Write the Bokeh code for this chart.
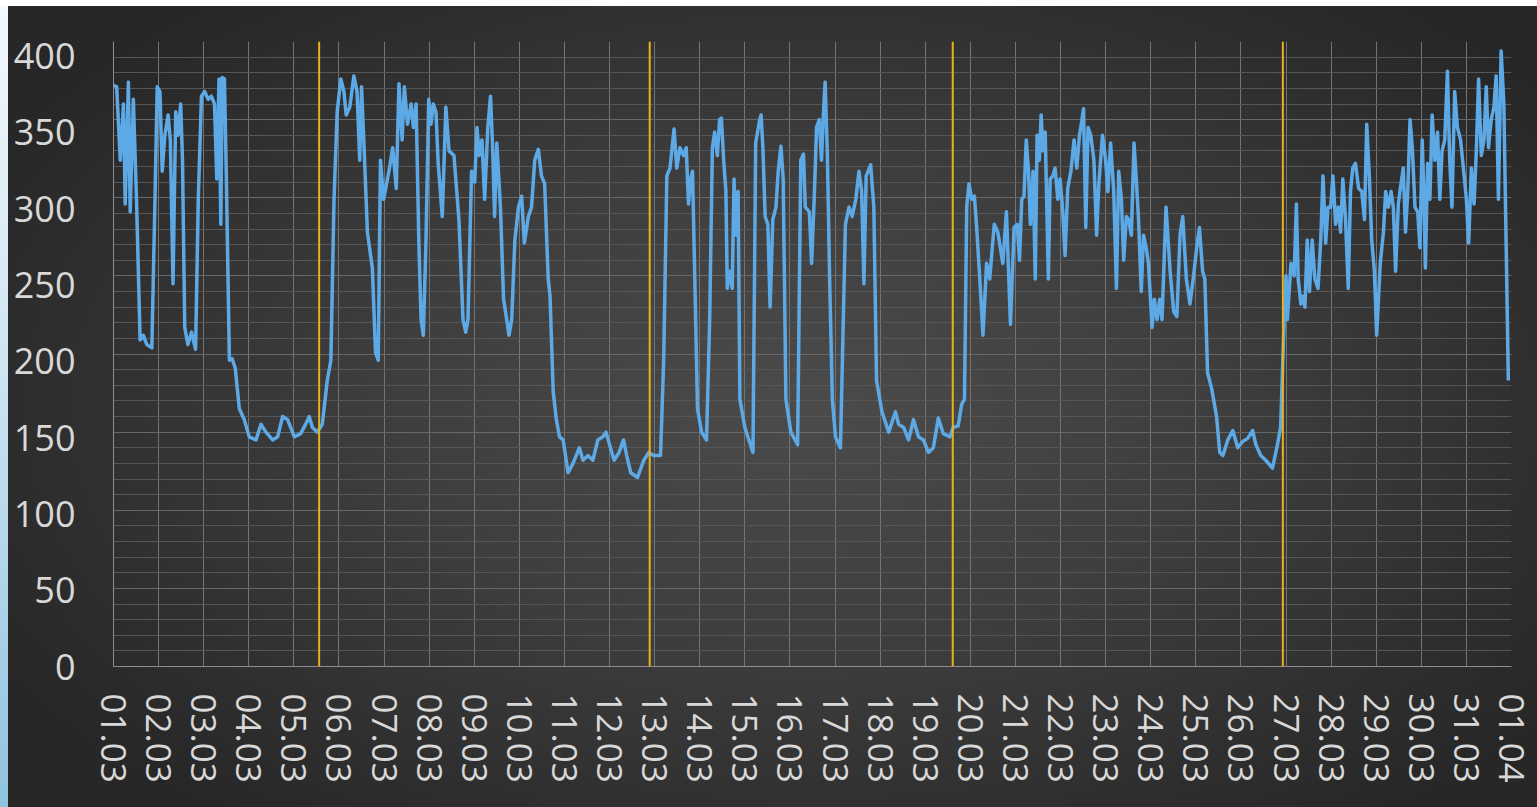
from bokeh.plotting import figure
from bokeh.models import Range1d, FixedTicker, SingleIntervalTicker, Span, LinearAxis
from bokeh.embed import file_html
from bokeh.resources import INLINE

# ---- data -------------------------------------------------------------
day_labels = ["01.03", "02.03", "03.03", "04.03", "05.03", "06.03", "07.03", "08.03",
              "09.03", "10.03", "11.03", "12.03", "13.03", "14.03", "15.03", "16.03",
              "17.03", "18.03", "19.03", "20.03", "21.03", "22.03", "23.03", "24.03",
              "25.03", "26.03", "27.03", "28.03", "29.03", "30.03", "31.03", "01.04"]

# time in days since 01.03 00:00
day_pos = [
    0.00, 0.07, 0.15, 0.22, 0.26, 0.33, 0.37, 0.44, 0.51, 0.59, 0.66, 0.74, 0.85, 0.92, 0.97,
    1.03, 1.08, 1.14, 1.21, 1.26, 1.32, 1.38, 1.43, 1.49, 1.53, 1.58, 1.65, 1.73, 1.82, 1.88, 1.95,
    2.02, 2.10, 2.17, 2.24, 2.29, 2.34, 2.38, 2.41, 2.46, 2.50, 2.57, 2.63, 2.70, 2.79, 2.90,
    3.01, 3.16, 3.27, 3.38, 3.53, 3.64, 3.75, 3.86,
    4.01, 4.15, 4.26, 4.34, 4.41, 4.52, 4.63, 4.74, 4.82, 4.89, 4.96,
    5.04, 5.11, 5.16, 5.24, 5.33, 5.40, 5.46, 5.50, 5.55, 5.63, 5.74, 5.81, 5.87, 5.92, 5.99,
    6.12, 6.19, 6.27, 6.33, 6.40, 6.45, 6.52, 6.60, 6.65, 6.71, 6.77, 6.82, 6.87, 6.93, 6.99,
    7.04, 7.09, 7.15, 7.20, 7.29, 7.37, 7.44, 7.55, 7.66, 7.75, 7.81, 7.86, 7.94,
    8.01, 8.06, 8.11, 8.17, 8.23, 8.30, 8.36, 8.41, 8.45, 8.50, 8.58, 8.65, 8.72, 8.77, 8.83, 8.90, 8.98,
    9.05, 9.11, 9.20, 9.27, 9.34, 9.42, 9.49, 9.56, 9.64, 9.68, 9.75, 9.82, 9.89, 9.97,
    10.08, 10.19, 10.26, 10.33, 10.41, 10.52, 10.63, 10.74, 10.85, 10.92,
    11.00, 11.10, 11.21, 11.31, 11.38, 11.47, 11.62, 11.76, 11.87, 11.98,
    12.13, 12.20, 12.27, 12.34, 12.43, 12.49, 12.56, 12.64, 12.70, 12.75, 12.80, 12.84, 12.89, 12.95,
    13.04, 13.15, 13.22, 13.28, 13.33, 13.39, 13.44, 13.48, 13.53, 13.58, 13.61, 13.67, 13.72, 13.76,
    13.81, 13.85, 13.89,
    14.00, 14.18, 14.24, 14.33, 14.36, 14.40, 14.45, 14.51, 14.56, 14.62, 14.69, 14.74, 14.80, 14.85, 14.91,
    15.02, 15.17, 15.24, 15.30, 15.34, 15.43, 15.48, 15.54, 15.59, 15.65, 15.70, 15.74, 15.78, 15.83,
    15.88, 15.94,
    16.01, 16.12, 16.23, 16.31, 16.38, 16.46, 16.53, 16.59, 16.64, 16.69, 16.79, 16.86, 16.92,
    17.04, 17.19, 17.34, 17.41, 17.52, 17.63, 17.74, 17.85, 17.96,
    18.07, 18.18, 18.29, 18.40, 18.55, 18.62, 18.73, 18.81, 18.87, 18.92, 18.97,
    19.03, 19.09, 19.14, 19.21, 19.28, 19.36, 19.43, 19.53, 19.61, 19.72, 19.80, 19.89, 19.97,
    20.04, 20.09, 20.14, 20.19, 20.24, 20.29, 20.33, 20.39, 20.44, 20.48, 20.53, 20.57, 20.61, 20.66,
    20.73, 20.77, 20.83, 20.88, 20.94, 20.99,
    21.05, 21.10, 21.16, 21.23, 21.30, 21.36, 21.42, 21.46, 21.51, 21.56, 21.61, 21.67, 21.74, 21.80,
    21.85, 21.93,
    22.00, 22.05, 22.11, 22.18, 22.24, 22.29, 22.35, 22.40, 22.46, 22.51, 22.57, 22.63, 22.68, 22.73,
    22.79, 22.84, 22.90, 22.95,
    23.03, 23.08, 23.14, 23.20, 23.25, 23.34, 23.43, 23.51, 23.58, 23.65, 23.71, 23.79, 23.87, 23.95,
    24.02, 24.08, 24.15, 24.20, 24.26, 24.35, 24.46, 24.53, 24.60, 24.71, 24.82, 24.93,
    25.04, 25.15, 25.26, 25.33, 25.44, 25.55, 25.70, 25.81, 25.88, 25.96,
    26.00, 26.03, 26.11, 26.18, 26.23, 26.27, 26.33, 26.38, 26.42, 26.47, 26.52, 26.58, 26.64, 26.71,
    26.77, 26.82, 26.88, 26.93, 26.99,
    27.04, 27.10, 27.16, 27.21, 27.26, 27.32, 27.38, 27.43, 27.48, 27.54, 27.61, 27.68, 27.74, 27.79,
    27.85, 27.90, 27.96,
    28.01, 28.09, 28.16, 28.21, 28.27, 28.33, 28.38, 28.43, 28.49, 28.55, 28.60, 28.65, 28.70, 28.75,
    28.80, 28.86, 28.92, 28.97,
    29.02, 29.06, 29.09, 29.14, 29.19, 29.24, 29.30, 29.36, 29.41, 29.46, 29.52, 29.58, 29.63, 29.68,
    29.74, 29.80, 29.87, 29.95,
    30.00, 30.05, 30.11, 30.17, 30.22, 30.27, 30.33, 30.39, 30.44, 30.49, 30.55, 30.61, 30.66, 30.71,
    30.77, 30.83, 30.88, 30.93,
]

load = [
    372, 371, 324, 360, 296, 374, 291, 363, 299, 209, 212, 206, 204, 299, 371,
    368, 317, 340, 353, 337, 245, 355, 340, 360, 324, 217, 206, 214, 203, 299, 365,
    368, 363, 365, 360, 312, 376, 283, 377, 376, 317, 196, 197, 191, 165, 158,
    147, 145, 155, 150, 145, 147, 160, 158,
    147, 149, 155, 160, 153, 150, 155, 183, 196, 299, 355,
    376, 368, 353, 358, 378, 368, 324, 371, 337, 278, 255, 201, 196, 324, 299,
    319, 332, 306, 373, 337, 371, 347, 360, 345, 360, 273, 222, 212, 273, 363,
    347, 360, 355, 322, 288, 358, 330, 327, 286, 222, 214, 222, 317,
    310, 345, 327, 337, 299, 345, 365, 330, 288, 335, 294, 235, 222, 212, 222, 273, 294,
    301, 271, 288, 294, 324, 331, 314, 309, 248, 237, 176, 158, 147, 145,
    124, 130, 135, 140, 132, 135, 132, 145, 147, 150,
    142, 132, 137, 145, 135, 124, 121, 132, 137, 135,
    135, 196, 314, 319, 344, 319, 332, 327, 332, 296, 312, 317, 248, 165,
    150, 145, 222, 332, 342, 327, 350, 351, 324, 304, 242, 253, 242, 312,
    276, 304, 171,
    153, 137, 335, 350, 353, 332, 288, 283, 230, 286, 294, 317, 333, 312, 171,
    150, 142, 324, 328, 294, 291, 258, 301, 345, 350, 324, 353, 374, 327,
    248, 171,
    147, 140, 283, 294, 288, 299, 317, 304, 245, 314, 321, 294, 183,
    163, 150, 163, 155, 153, 145, 158, 147, 145,
    137, 140, 159, 149, 147, 153, 154, 168, 171, 294, 309,
    299, 301, 281, 248, 212, 258, 248, 283, 278, 258, 291, 219, 281,
    283, 260, 299, 301, 337, 317, 283, 317, 248, 340, 324, 353, 330, 342,
    248, 312, 314, 319, 299, 312,
    291, 263, 306, 317, 337, 319, 340, 347, 357, 281, 345, 340, 324, 276,
    309, 340,
    324, 304, 335, 304, 242, 317, 299, 260, 288, 286, 276, 335, 312, 286,
    240, 276, 268, 258,
    217, 235, 222, 235, 222, 294, 253, 227, 224, 276, 288, 248, 232, 250,
    268, 281, 253, 248, 188, 178, 160, 137, 135, 145, 151, 140,
    144, 146, 151, 142, 135, 132, 127, 142, 153, 222,
    250, 222, 258, 250, 296, 248, 232, 237, 230, 273, 240, 273, 248, 242,
    273, 314, 271, 294, 294,
    314, 283, 294, 278, 312, 286, 242, 304, 319, 322, 306, 304, 286, 347,
    312, 273, 253,
    212, 258, 278, 304, 294, 304, 294, 253, 296, 309, 319, 278, 304, 350,
    332, 294, 291, 268,
    337, 299, 255, 322, 299, 353, 324, 342, 299, 330, 337, 381, 324, 294,
    368, 345, 337, 314,
    299, 271, 319, 296, 330, 376, 327, 337, 371, 332, 350, 358, 378, 299,
    394, 360, 273, 183,
]

# vertical markers (days since 01.03)
marker_days = [4.56, 11.89, 18.61, 25.93]

# ---- figure -----------------------------------------------------------
label_font = "Open Sans"
label_color = "#d8d8d8"

p = figure(width=1529, height=801,
           x_range=Range1d(0, 31), y_range=Range1d(0, 400),
           output_backend="svg", toolbar_location=None,
           min_border_left=105, min_border_right=26,
           min_border_top=35, min_border_bottom=141)

p.background_fill_color = None
p.border_fill_color = None
p.outline_line_color = None
p.styles = {"background": "radial-gradient(ellipse 60% 65% at 52% 50%, #4b4b4b 0%, #3e3e3e 45%, #2f2f2f 80%, #272727 100%)"}

# grids
day_ticks = list(range(len(day_labels)))
p.xaxis.ticker = FixedTicker(ticks=day_ticks)
p.xgrid.ticker = FixedTicker(ticks=day_ticks)
p.xaxis.major_label_overrides = {i: lab for i, lab in enumerate(day_labels)}
p.xgrid.grid_line_color = "#747474"
p.xgrid.grid_line_width = 1

yt = SingleIntervalTicker(interval=50, num_minor_ticks=5)
p.yaxis.ticker = yt
p.ygrid.ticker = yt
p.ygrid.grid_line_color = "#686868"
p.ygrid.minor_grid_line_color = "#565656"
p.yaxis.visible = False

# value labels of the source sit slightly lower than their gridlines
p.extra_y_ranges = {"labels": Range1d(0, 409.5)}
ylab_axis = LinearAxis(y_range_name="labels", ticker=SingleIntervalTicker(interval=50))
p.add_layout(ylab_axis, "left")

for ax in (p.xaxis[0], ylab_axis):
    ax.axis_line_color = "#8e8e8e"
    ax.axis_line_width = 1
    ax.major_tick_line_color = None
    ax.minor_tick_line_color = None
    ax.major_tick_out = 0
    ax.major_tick_in = 0
    ax.minor_tick_out = 0
    ax.major_label_text_font = label_font
    ax.major_label_text_font_size = "35px"
    ax.major_label_text_color = label_color

ylab_axis.major_label_text_font_size = "36px"
ylab_axis.major_label_standoff = 38
p.xaxis.major_label_standoff = 27
p.xaxis.major_label_orientation = "vertical"

# markers
for d in marker_days:
    p.add_layout(Span(location=d, dimension="height", line_color="#e6b21e", line_width=2))

# series
p.line(day_pos, load, line_color="#5da9e6", line_width=3.5, line_join="round")

html = file_html(p, INLINE, title="chart")
page_css = (
    "<style>html, body { overflow: hidden !important; }"
    "body { padding: 6px 0 0 8px !important; margin: 0 !important;"
    " background: linear-gradient(#ffffff, #ffffff) left top / 100% 6px no-repeat,"
    " linear-gradient(to bottom, #f4f9fc 0%, #cfe5f2 45%, #8fc3e0 100%) left top / 8px 100% no-repeat,"
    " #2a2a2a !important; }</style></head>"
)
html = html.replace("</head>", page_css, 1)
open("out.html", "w").write(html)
